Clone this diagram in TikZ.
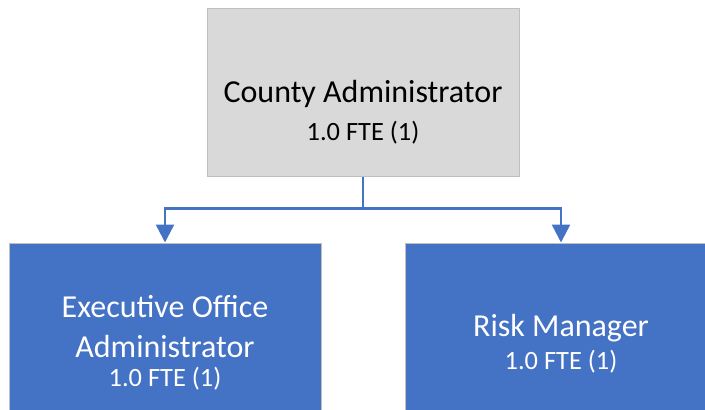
\documentclass[tikz,border=0pt]{standalone}
\usepackage{fontspec}
\setmainfont{Carlito}
\usetikzlibrary{arrows.meta}

\definecolor{boxgray}{HTML}{D9D9D9}
\definecolor{edgegray}{HTML}{BFBFBF}
\definecolor{officeblue}{HTML}{4472C4}

\tikzset{
  unit/.style={rectangle, draw=edgegray, line width=0.5pt, inner sep=0pt,
    minimum width=156pt, minimum height=84pt},
  headbox/.style={unit, fill=boxgray},
  staffbox/.style={unit, fill=officeblue},
  rolename/.style={anchor=base, font=\fontsize{16}{19}\selectfont},
  fteline/.style={anchor=base, font=\fontsize{13.2}{16}\selectfont},
  conn/.style={draw=officeblue, line width=1.25pt, -{Triangle[width=9pt,length=9pt]}}
}

\begin{document}
\begin{tikzpicture}[x=0.5pt, y=-0.5pt]
  \useasboundingbox (0,0) rectangle (705,409);
  \clip (0,0) rectangle (705,409);
  % boxes
  \node[headbox] (admin) at (363,92) {};
  \node[staffbox] (exec) at (165,327) {};
  \node[staffbox] (risk) at (561,327) {};
  % connectors
  \draw[conn] (admin.south) -- ++(0,32) coordinate (split) -| (exec.north);
  \draw[conn] (split) -| (risk.north);
  % labels
  \node[rolename] (adminT) at (363,102) {County Administrator};
  \node[fteline] (adminF) at (363,140) {1.0 FTE (1)};
  \node[rolename, white] (execT) at (165,317) {Executive Office};
  \node[rolename, white] (execU) at (165,357) {Administrator};
  \node[fteline, white] (execF) at (165,386) {1.0 FTE (1)};
  \node[rolename, white] (riskT) at (561,336) {Risk Manager};
  \node[fteline, white] (riskF) at (561,369) {1.0 FTE (1)};
\end{tikzpicture}
\end{document}
